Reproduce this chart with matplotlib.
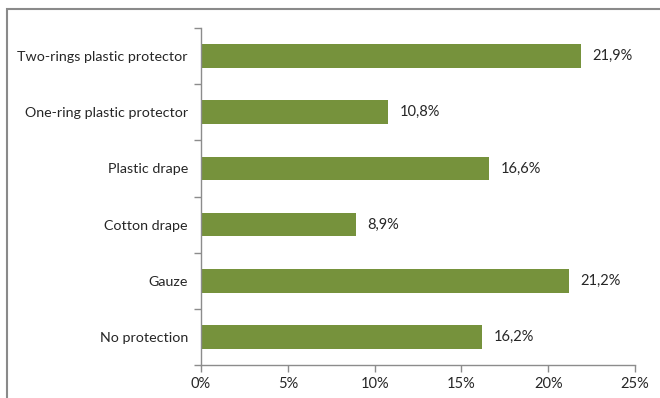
import matplotlib
matplotlib.use("Agg")
import matplotlib.pyplot as plt
from matplotlib.patches import Rectangle

categories = ["No protection", "Gauze", "Cotton drape", "Plastic drape",
              "One-ring plastic protector", "Two-rings plastic protector"]
values = [16.2, 21.2, 8.9, 16.6, 10.8, 21.9]
xticks = [0, 5, 10, 15, 20, 25]
xtick_labels = ["0%", "5%", "10%", "15%", "20%", "25%"]

plt.rcParams["font.family"] = ["Lato", "DejaVu Sans"]
text_color = "#262626"
axis_color = "#8c8c8c"
bar_color = "#76923c"

fig = plt.figure(figsize=(6.6, 3.98), dpi=100)
ax = fig.add_axes([201 / 660, 1 - 365 / 398, 434 / 660, 337 / 398])

y = list(range(len(categories)))
ax.barh(y, values, height=0.42, color=bar_color, zorder=2)
for yi, v in zip(y, values):
    ax.text(v + 0.65, yi, f"{v:.1f}%".replace(".", ","), va="center", ha="left",
            fontsize=10.5, color=text_color)

ax.set_xlim(0, 25)
ax.set_ylim(-0.5, len(categories) - 0.5)
ax.set_xticks(xticks)
ax.set_xticklabels(xtick_labels, fontsize=10.5, color=text_color)
ax.set_yticks(y)
ax.set_yticklabels(categories, fontsize=10.3, color=text_color)
ax.tick_params(axis="y", length=0, pad=9.5)
ax.tick_params(axis="x", length=5, width=1, color=axis_color, direction="out", pad=4)
# category boundary ticks on the value axis
ax.set_yticks([i - 0.5 for i in range(len(categories) + 1)], minor=True)
ax.tick_params(axis="y", which="minor", length=5, width=1, color=axis_color, direction="out")

for side in ("top", "right"):
    ax.spines[side].set_visible(False)
for side in ("left", "bottom"):
    ax.spines[side].set_color(axis_color)
    ax.spines[side].set_linewidth(1)

# chart area border
fig.patches.append(Rectangle((7 / 660, -0.1), 1.2, 1 - 9 / 398 + 0.1,
                             transform=fig.transFigure, fill=False,
                             edgecolor="#8a8a8a", linewidth=1.5))

fig.savefig("out.png", dpi=100)
